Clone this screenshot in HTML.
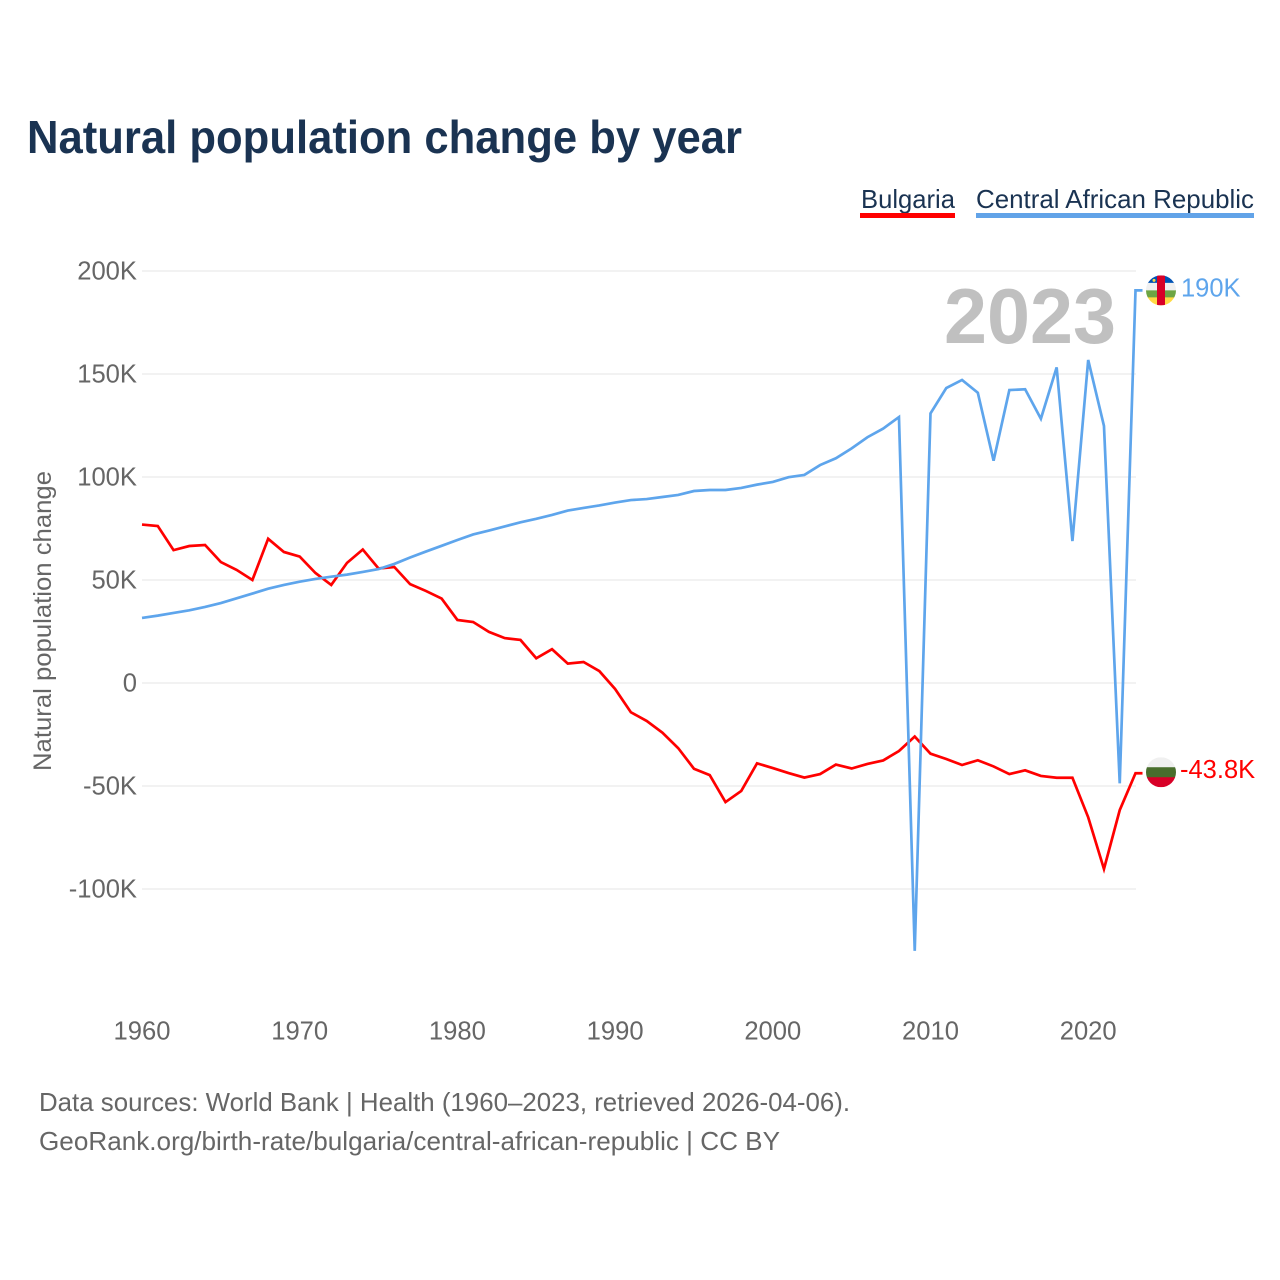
<!DOCTYPE html>
<html lang="en">
<head>
<meta charset="utf-8">
<title>Natural population change by year</title>
<style>
html,body{margin:0;padding:0;background:#fff;width:1280px;height:1280px;overflow:hidden}
svg{display:block}
text{font-family:"Liberation Sans",sans-serif}
</style>
</head>
<body>
<svg id="chart" xmlns="http://www.w3.org/2000/svg" width="1280" height="1280" viewBox="0 0 1280 1280">
  <defs>
    <clipPath id="flag-clip-car"><circle cx="0" cy="0" r="15"></circle></clipPath>
    <clipPath id="flag-clip-bg"><circle cx="0" cy="0" r="15"></circle></clipPath>
  </defs>
  <rect x="0" y="0" width="1280" height="1280" fill="#fff"></rect>

  <text x="27" y="153" font-size="46" font-weight="700" fill="#1a3352" textLength="715" lengthAdjust="spacingAndGlyphs">Natural population change by year</text>

  <g>
    <text x="861" y="208" font-size="26" fill="#1a3352" textLength="94" lengthAdjust="spacingAndGlyphs">Bulgaria</text>
    <rect x="860" y="213" width="95" height="5" fill="#ff0000"></rect>
  </g>
  <g>
    <text x="976" y="208" font-size="26" fill="#1a3352" textLength="278" lengthAdjust="spacingAndGlyphs">Central African Republic</text>
    <rect x="976" y="213" width="278" height="5" fill="#62a3e8"></rect>
  </g>

  <g id="grid"></g>
  <g id="y-ticks"></g>
  <g id="x-ticks"></g>

  <text transform="translate(51,621) rotate(-90)" text-anchor="middle" font-size="25" fill="#666666" textLength="300" lengthAdjust="spacingAndGlyphs">Natural population change</text>

  <text x="944" y="343" font-size="78" font-weight="700" fill="#c0c0c0" textLength="172" lengthAdjust="spacingAndGlyphs">2023</text>

  <g id="series"></g>

  <g id="flag-car">
    <g clip-path="url(#flag-clip-car)">
      <rect x="-15" y="-15" width="30" height="8" fill="#0052b4"></rect>
      <rect x="-15" y="-7.5" width="30" height="8" fill="#f0f0f0"></rect>
      <rect x="-15" y="0" width="30" height="7.5" fill="#6da544"></rect>
      <rect x="-15" y="7" width="30" height="8" fill="#ffda44"></rect>
      <rect x="-4" y="-15" width="8" height="30" fill="#d80027"></rect>
      <circle cx="-7" cy="-10" r="1.5" fill="#ffda44"></circle>
    </g>
  </g>
  <g id="flag-bg">
    <g clip-path="url(#flag-clip-bg)">
      <rect x="-15" y="-15" width="30" height="10.5" fill="#f0f0f0"></rect>
      <rect x="-15" y="-5" width="30" height="10.5" fill="#496e2d"></rect>
      <rect x="-15" y="5" width="30" height="10" fill="#d80027"></rect>
    </g>
  </g>

  <text id="value-car" x="1181" font-size="25.5" fill="#5ea5ec"></text>
  <text id="value-bg" x="1180" font-size="25.5" fill="#ff0000"></text>

  <text x="39" y="1111" font-size="26" fill="#666666" textLength="811" lengthAdjust="spacingAndGlyphs">Data sources: World Bank | Health (1960–2023, retrieved 2026-04-06).</text>
  <text x="39" y="1150" font-size="26" fill="#666666" textLength="741" lengthAdjust="spacingAndGlyphs">GeoRank.org/birth-rate/bulgaria/central-african-republic | CC BY</text>
</svg>
<script>
const firstYear = 1960;
const yTickValues = [200, 150, 100, 50, 0, -50, -100];
const yTickLabels = ["200K", "150K", "100K", "50K", "0", "-50K", "-100K"];
const xTickYears = [1960, 1970, 1980, 1990, 2000, 2010, 2020];
const bulgariaValues = [76.9, 76.2, 64.5, 66.5, 67, 58.7, 54.9, 50, 70, 63.6, 61.4, 53.4, 47.6, 58.3, 64.8, 55.6, 56.3, 48, 44.7, 41, 30.6, 29.6, 24.8, 21.8, 20.9, 12, 16.4, 9.4, 10.2, 5.8, -2.9, -14.2, -18.4, -24.1, -31.6, -41.6, -44.7, -57.8, -52.4, -39, -41.3, -43.7, -45.9, -44.2, -39.6, -41.5, -39.3, -37.6, -33, -26, -34.3, -36.9, -39.8, -37.5, -40.5, -44.2, -42.4, -45.1, -46, -46, -65.2, -90.3, -61.7, -43.8];
const carValues = [31.6, 32.7, 34, 35.3, 36.9, 38.8, 41.1, 43.4, 45.8, 47.6, 49.2, 50.5, 51.6, 52.6, 53.9, 55.3, 57.8, 60.9, 63.8, 66.6, 69.4, 72.1, 74, 76, 78, 79.7, 81.6, 83.7, 85, 86.2, 87.6, 88.8, 89.3, 90.3, 91.3, 93.2, 93.7, 93.7, 94.7, 96.3, 97.6, 99.9, 101, 105.8, 109.1, 113.9, 119.3, 123.5, 129.1, -130, 130.9, 143.2, 147.1, 140.9, 107.9, 142.2, 142.6, 128.3, 153.2, 68.9, 156.8, 124.8, -48.7, 190.6];
const bulgariaEndLabel = "-43.8K";
const carEndLabel = "190K";

const NS = "http://www.w3.org/2000/svg";
function xScale(year) { return 142 + (year - 1960) * 15.77; }
function yScale(value) { return 683 - value * 2.06; }
function make(tag, attrs, parent) {
  const el = document.createElementNS(NS, tag);
  for (const k in attrs) el.setAttribute(k, attrs[k]);
  parent.appendChild(el);
  return el;
}

const gridGroup = document.getElementById("grid");
const yTickGroup = document.getElementById("y-ticks");
yTickValues.forEach(function (v, i) {
  const line = make("line", { x1: 142, x2: 1136, y1: yScale(v), y2: yScale(v), stroke: "#eeeeee", "stroke-width": 1.6 }, gridGroup);
  
  
  const label = make("text", { x: 137, y: yScale(v) + 8.5, "text-anchor": "end", "font-size": 25.6, fill: "#666666" }, yTickGroup);
  
  
  label.textContent = yTickLabels[i];
});

const xTickGroup = document.getElementById("x-ticks");
xTickYears.forEach(function (year) {
  const label = make("text", { x: xScale(year), y: 1039.5, "text-anchor": "middle", "font-size": 25.6, fill: "#666666" }, xTickGroup);
  
  
  label.textContent = String(year);
});

const seriesGroup = document.getElementById("series");
function drawSeries(values, color) {
  const pts = values.map(function (v, i) { return xScale(firstYear + i).toFixed(2) + "," + yScale(v).toFixed(2); });
  const lastX = xScale(firstYear + values.length - 1);
  const lastY = yScale(values[values.length - 1]);
  pts.push((lastX + 7).toFixed(2) + "," + lastY.toFixed(2));
  return make("polyline", { points: pts.join(" "), fill: "none", stroke: color, "stroke-width": 2.7, "stroke-linejoin": "miter" }, seriesGroup);
}
const bulgariaLine = drawSeries(bulgariaValues, "#ff0000");


const carLine = drawSeries(carValues, "#5ea5ec");



const carEndY = yScale(carValues[carValues.length - 1]);
const bgEndY = yScale(bulgariaValues[bulgariaValues.length - 1]);
document.getElementById("flag-car").setAttribute("transform", "translate(1161," + carEndY + ")");
document.getElementById("flag-bg").setAttribute("transform", "translate(1161," + (bgEndY - 1) + ")");
const carText = document.getElementById("value-car");
carText.setAttribute("y", carEndY + 6);
carText.textContent = carEndLabel;
const bgText = document.getElementById("value-bg");
bgText.setAttribute("y", bgEndY + 5);
bgText.textContent = bulgariaEndLabel;
</script>
</body>
</html>
